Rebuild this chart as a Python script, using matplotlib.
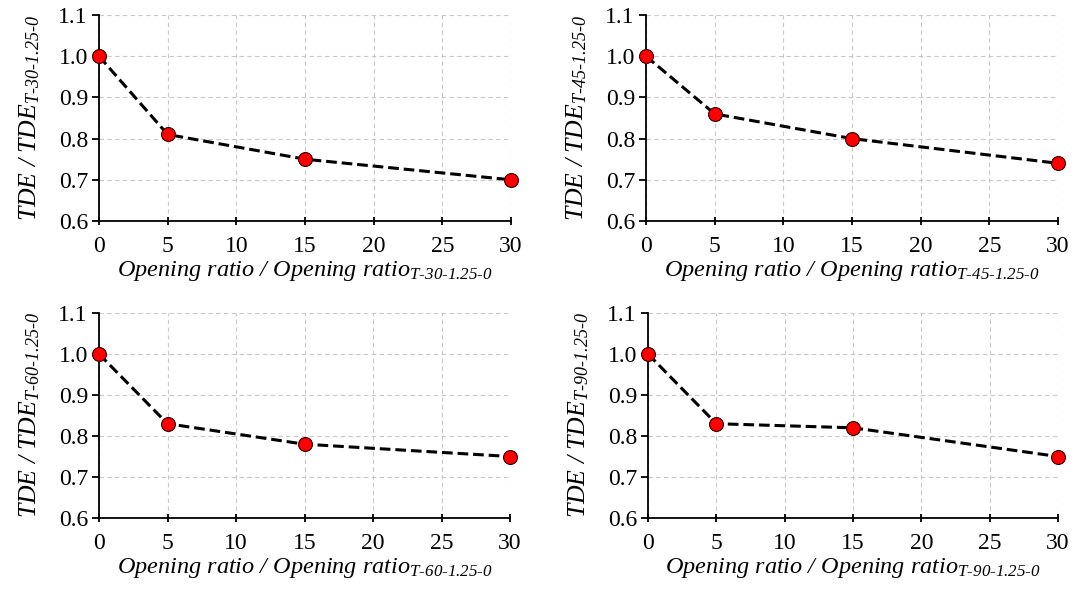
import numpy as np
import matplotlib.pyplot as plt
from matplotlib.ticker import FormatStrFormatter, MultipleLocator

plt.rcParams['font.family'] = ['Liberation Serif', 'DejaVu Serif']
plt.rcParams['mathtext.fontset'] = 'custom'
plt.rcParams['mathtext.rm'] = 'Liberation Serif:italic'
plt.rcParams['mathtext.it'] = 'Liberation Serif:italic'

# opening ratios and normalised TDE for each inclination case
opening = [0, 5, 15, 30]
cases = ['T-30-1.25-0', 'T-45-1.25-0', 'T-60-1.25-0', 'T-90-1.25-0']
tde_30 = [1.00, 0.81, 0.75, 0.70]
tde_45 = [1.00, 0.86, 0.80, 0.74]
tde_60 = [1.00, 0.83, 0.78, 0.75]
tde_90 = [1.00, 0.83, 0.82, 0.75]
series = [tde_30, tde_45, tde_60, tde_90]

fig = plt.figure(figsize=(10.75, 5.94), dpi=100)
W, H = 1075, 594
# axes boxes in pixels: left, top, right, bottom
boxes = [(99, 15, 511, 221), (646, 15, 1058, 221),
         (99, 313, 510, 518), (648, 313, 1058, 518)]

for box, case, vals in zip(boxes, cases, series):
    l, t, r, b = box
    ax = fig.add_axes([l / W, 1 - b / H, (r - l) / W, (b - t) / H])
    ax.plot(opening, vals, ls=(0, (3.5, 1.6)), color='black', lw=2.2,
            marker='o', ms=10, mfc='#ff0000', mec='#300000', mew=0.8,
            clip_on=False, zorder=3)
    ax.set_xlim(0, 30)
    ax.set_ylim(0.6, 1.1)
    ax.xaxis.set_major_locator(MultipleLocator(5))
    ax.yaxis.set_major_locator(MultipleLocator(0.1))
    ax.yaxis.set_major_formatter(FormatStrFormatter('%.1f'))
    ax.grid(True, ls=(0, (4, 3)), color='#c8c8c8', lw=0.8)
    for s in ['top', 'right']:
        ax.spines[s].set_visible(False)
    for s in ['left', 'bottom']:
        ax.spines[s].set_linewidth(1.3)
    ax.tick_params(axis='y', direction='out', length=5, width=1.3,
                   labelsize=17, pad=3)
    ax.tick_params(axis='x', direction='inout', length=6, width=1.3,
                   labelsize=17, pad=8)
    ax.set_xlabel(r'$\text{Opening ratio / Opening ratio}_{\text{%s}}$' % case,
                  fontsize=17.5, labelpad=1)
    ax.set_ylabel(r'$\text{TDE / TDE}_{\text{%s}}$' % case,
                  fontsize=18.5, labelpad=12)

fig.savefig('out.png', dpi=100, facecolor='white')
